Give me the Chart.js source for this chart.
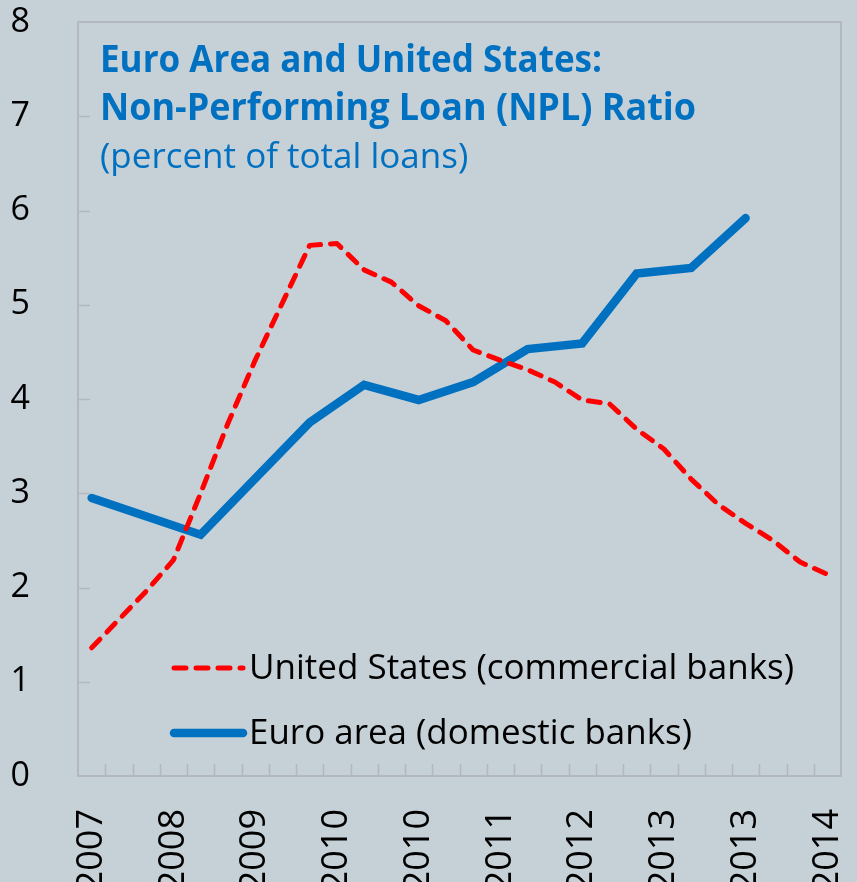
<!DOCTYPE html>
<html lang="en">
  <head>
    <meta charset="UTF-8" />
    <title>Euro Area and United States: NPL Ratio</title>
    <script src="https://cdn.jsdelivr.net/npm/chart.js"></script>
    <style>
      html, body { margin: 0; padding: 0; background: #c5d0d7; }
      canvas { display: block; }
    </style>
  </head>
  <body>
    <canvas id="nplChart" width="857" height="882"></canvas>

    <script>
      // quarterly periods, 2007Q4 .. 2014Q3
      const quarters = [
        "2007Q4", "2008Q1", "2008Q2", "2008Q3", "2008Q4", "2009Q1", "2009Q2",
        "2009Q3", "2009Q4", "2010Q1", "2010Q2", "2010Q3", "2010Q4", "2011Q1",
        "2011Q2", "2011Q3", "2011Q4", "2012Q1", "2012Q2", "2012Q3", "2012Q4",
        "2013Q1", "2013Q2", "2013Q3", "2013Q4", "2014Q1", "2014Q2", "2014Q3",
      ];

      // year shown under every third quarter
      const tickYears = ["2007", "2008", "2009", "2010", "2010", "2011", "2012", "2013", "2013", "2014"];
      const tickStep = 3;

      // percent of total loans
      const usCommercial = [
        1.36, 1.66, 1.96, 2.29, 3.0, 3.74, 4.41, 5.02, 5.63, 5.65, 5.37, 5.24,
        4.99, 4.83, 4.52, 4.41, 4.31, 4.18, 3.99, 3.95, 3.68, 3.47, 3.15, 2.88,
        2.68, 2.5, 2.27, 2.14,
      ];
      // annual to 2009, semi-annual afterwards
      const euroDomestic = [
        2.95, null, null, null, 2.56, null, null, null, 3.75, null, 4.15, null,
        3.99, null, 4.18, null, 4.53, null, 4.59, null, 5.33, null, 5.39, null,
        5.92, null, null, null,
      ];

      const titleLines = [
        "Euro Area and United States:",
        "Non-Performing Loan (NPL) Ratio",
      ];
      const subtitle = "(percent of total loans)";

      const frameColor = "#b3b8bc";
      const labelFont = '"Open Sans", "Noto Sans", sans-serif';

      // box around the plot with short inward tick marks
      const framePlugin = {
        id: "frame",
        beforeDatasetsDraw(chart) {
          const { ctx, chartArea: a, scales } = chart;
          ctx.save();
          ctx.strokeStyle = frameColor;
          ctx.lineWidth = 1.5;
          const x = scales.x;
          const half = (x.getPixelForValue(1) - x.getPixelForValue(0)) / 2;
          ctx.beginPath();
          for (let i = 1; i < quarters.length; i++) {
            const px = Math.round(x.getPixelForValue(i) - half) + 0.5;
            ctx.moveTo(px, a.bottom);
            ctx.lineTo(px, a.bottom - 12);
          }
          const y = scales.y;
          for (let v = 1; v < 8; v++) {
            const py = Math.round(y.getPixelForValue(v)) + 0.5;
            ctx.moveTo(a.left, py);
            ctx.lineTo(a.left + 12, py);
          }
          ctx.stroke();
          ctx.lineWidth = 2;
          ctx.strokeRect(a.left, a.top, a.right - a.left, a.bottom - a.top);
          ctx.restore();
        },
        afterDraw(chart) {
          const { ctx } = chart;
          ctx.save();
          // title block
          ctx.fillStyle = "#0070c0";
          ctx.textBaseline = "alphabetic";
          ctx.font = "bold 37px " + labelFont;
          ctx.fillText(titleLines[0], 100, 72, 502);
          ctx.fillText(titleLines[1], 100, 120, 596);
          ctx.font = "35px " + labelFont;
          ctx.fillText(subtitle, 100, 168, 370);

          // legend
          const items = [
            { ds: chart.data.datasets[0], y: 668, w: 548 },
            { ds: chart.data.datasets[1], y: 733, w: 443 },
          ];
          items.forEach((it) => {
            ctx.strokeStyle = it.ds.borderColor;
            ctx.lineWidth = it.ds.borderWidth;
            ctx.lineCap = "round";
            ctx.setLineDash(it.ds.borderDash || []);
            ctx.beginPath();
            ctx.moveTo(174, it.y);
            ctx.lineTo(243, it.y);
            ctx.stroke();
            ctx.setLineDash([]);
            ctx.fillStyle = "#000";
            ctx.font = "35px " + labelFont;
            ctx.textBaseline = "middle";
            ctx.fillText(it.ds.label, 249, it.y + 1, it.w);
          });
          ctx.restore();
        },
      };

      const ctx = document.getElementById("nplChart").getContext("2d");
      new Chart(ctx, {
        type: "line",
        data: {
          labels: quarters,
          datasets: [
            {
              label: "United States (commercial banks)",
              data: usCommercial,
              borderColor: "#ff0000",
              borderWidth: 5,
              borderDash: [12, 10],
              borderCapStyle: "round",
              borderJoinStyle: "round",
              pointRadius: 0,
              tension: 0,
              fill: false,
            },
            {
              label: "Euro area (domestic banks)",
              data: euroDomestic,
              borderColor: "#0070c0",
              borderWidth: 8.5,
              borderCapStyle: "round",
              borderJoinStyle: "miter",
              pointRadius: 0,
              spanGaps: true,
              tension: 0,
              fill: false,
            },
          ],
        },
        options: {
          responsive: false,
          animation: false,
          layout: { padding: { top: 22, right: 16, left: 0, bottom: 0 } },
          plugins: {
            legend: { display: false },
            title: { display: false },
            tooltip: { enabled: false },
          },
          scales: {
            x: {
              type: "category",
              offset: true,
              grid: { display: false },
              border: { display: false },
              ticks: {
                autoSkip: false,
                minRotation: 90,
                maxRotation: 90,
                padding: 25,
                color: "#000",
                font: { family: labelFont, size: 36 },
                callback: (val, i) => (i % tickStep === 0 ? tickYears[i / tickStep] : ""),
              },
              afterFit: (scale) => {
                scale.height = 106;
                scale.paddingLeft = 0;
                scale.paddingRight = 0;
              },
            },
            y: {
              min: 0,
              max: 8,
              grid: { display: false },
              border: { display: false },
              ticks: {
                stepSize: 1,
                padding: 40,
                color: "#000",
                font: { family: labelFont, size: 34 },
              },
              afterFit: (scale) => {
                scale.width = 78;
                scale.paddingTop = 0;
                scale.paddingBottom = 0;
              },
            },
          },
        },
        plugins: [framePlugin],
      });
    </script>
  </body>
</html>
